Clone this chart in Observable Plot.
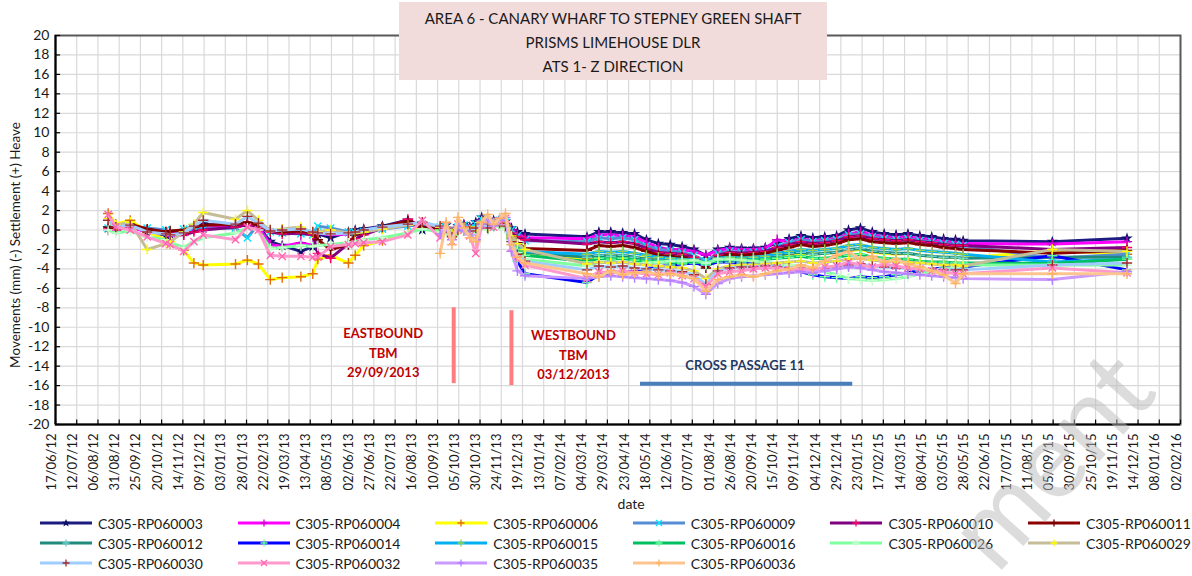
<!DOCTYPE html>
<html><head><meta charset="utf-8">
<script src="https://cdn.jsdelivr.net/npm/d3@7"></script>
<script src="https://cdn.jsdelivr.net/npm/@observablehq/plot@0.6"></script>
<style>
body{margin:0;background:#fff;font-family:Lato,"Open Sans",sans-serif;}
#wrap{position:relative;width:1192px;height:576px;overflow:hidden;background:#fff;}
#chart{position:absolute;left:0;top:0;}
#title{position:absolute;left:399px;top:2px;width:428px;height:78px;background:#f2dcdb;text-align:center;font-size:15px;line-height:24px;color:#1a1a1a;padding-top:4px;box-sizing:border-box;}
.leg{position:absolute;font-size:14px;color:#1a1a1a;display:flex;align-items:center;white-space:nowrap;height:16px;}
.leg svg{margin-right:5px;}
#wm{position:absolute;left:0;top:0;pointer-events:none;}
</style></head>
<body><div id="wrap"><div id="chart"></div>
<div id="title">AREA 6 - CANARY WHARF TO STEPNEY GREEN SHAFT<br>PRISMS LIMEHOUSE DLR<br>ATS 1- Z DIRECTION</div>
<div id="legend"></div>
<svg id="wm" width="1192" height="576"><text x="1160" y="394" text-anchor="end" transform="rotate(-48 1160 394)" font-family="Lato, sans-serif" font-size="108" fill="rgba(185,185,185,0.5)">ment</text></svg>
</div>
<script>
// ---------- tick labels ----------
const tickLabels = ["17/06/12","12/07/12","06/08/12","31/08/12","25/09/12","20/10/12","14/11/12","09/12/12","03/01/13","28/01/13","22/02/13","19/03/13","13/04/13","08/05/13","02/06/13","27/06/13","22/07/13","16/08/13","10/09/13","05/10/13","30/10/13","24/11/13","19/12/13","13/01/14","07/02/14","04/03/14","29/03/14","23/04/14","18/05/14","12/06/14","07/07/14","01/08/14","26/08/14","20/09/14","15/10/14","09/11/14","04/12/14","29/12/14","23/01/15","17/02/15","14/03/15","08/04/15","03/05/15","28/05/15","22/06/15","17/07/15","11/08/15","05/09/15","30/09/15","25/10/15","19/11/15","14/12/15","08/01/16","02/02/16"];
const yTicks = [-20,-18,-16,-14,-12,-10,-8,-6,-4,-2,0,2,4,6,8,10,12,14,16,18,20];

// ---------- survey dates ----------
const earlyDates = ["2012-08-18","2012-08-27","2012-09-13","2012-10-03","2012-10-25","2012-10-30","2012-11-15","2012-11-27","2012-12-08","2013-01-15","2013-01-29","2013-02-11","2013-02-25","2013-03-11","2013-04-02","2013-04-16","2013-04-22","2013-05-07","2013-05-28","2013-06-05","2013-06-15","2013-07-07","2013-08-06","2013-08-23"];
const p1Dates = ["2013-09-13","2013-09-20","2013-09-27","2013-10-04","2013-10-11","2013-10-18","2013-10-25","2013-11-01","2013-11-08","2013-11-15","2013-11-22","2013-11-29","2013-12-06","2013-12-13","2013-12-22"];
const p2Dates = ["2014-03-05","2014-03-19","2014-04-02","2014-04-16","2014-04-30","2014-05-14","2014-05-28","2014-06-11","2014-06-25","2014-07-09","2014-07-23","2014-08-06","2014-08-20","2014-09-03","2014-09-17","2014-10-01","2014-10-15","2014-10-29","2014-11-12","2014-11-26","2014-12-10","2014-12-24","2015-01-07","2015-01-21","2015-02-04","2015-02-18","2015-03-04","2015-03-18","2015-04-01","2015-04-15","2015-04-29","2015-05-13","2015-05-22"];
const lateDates = ["2015-09-04","2015-12-01"];
const allDates = earlyDates.concat(p1Dates, p2Dates, lateDates);

// ---------- series ----------
const seriesNames = ["C305-RP060003","C305-RP060004","C305-RP060006","C305-RP060009","C305-RP060010","C305-RP060011","C305-RP060012","C305-RP060014","C305-RP060015","C305-RP060016","C305-RP060026","C305-RP060029","C305-RP060030","C305-RP060032","C305-RP060035","C305-RP060036"];
const lineColors = ["#1c1c80","#ff00ff","#ffff00","#558ed5","#800080","#8b0000","#218a7c","#0000ff","#00b0f0","#00c060","#80ff9f","#c4bd97","#9fcdff","#ff99cc","#cc99ff","#fcc58f"];
const markerColors = ["#10106a","#d000d0","#e36c0a","#00e5ff","#ff0066","#700000","#66cccc","#66ff99","#92d050","#66ff99","#c8ffd0","#ffff00","#a52a2a","#ff66b3","#b380ff","#ffb366"];
const markerSymbols = ["star","plus","plus","times","plus","plus","plus","plus","plus","plus","plus","plus","plus","times","plus","plus"];

// values (mm); series without early readings start at 13/09/2013
const v003 = [0.2,0.1,0.6,-0.3,-0.5,-0.4,-0.2,0.4,0.6,0.4,0.6,0.4,-1.2,-1.6,-2.2,-1.7,-0.4,-0.8,-0.2,0.0,0.1,0.4,1.0,0.0,
  0.2,0.5,-0.2,0.4,0.6,0.3,0.8,1.3,0.7,1.0,1.1,0.9,0.2,-0.2,-0.4,
  -0.7,-0.2,-0.2,-0.3,-0.4,-1.0,-1.4,-1.5,-1.7,-2.0,-2.6,-2.0,-1.8,-1.9,-1.9,-1.8,-1.3,-0.9,-0.6,-0.8,-0.7,-0.6,0.0,0.2,-0.2,-0.4,-0.5,-0.4,-0.6,-0.7,-0.9,-1.0,-1.1,
  -1.2,-0.85];
const v004 = [0.0,0.0,0.3,-0.2,-0.4,-0.6,-0.5,0.0,0.2,0.3,0.7,0.3,-1.5,-1.7,-1.3,-1.6,-0.3,-0.5,-0.4,-0.2,0.0,0.2,0.7,0.2,
  0.0,0.3,-0.4,0.2,0.5,0.1,0.5,1.0,0.5,0.8,0.9,0.7,0.0,-0.5,-0.8,
  -0.9,-0.5,-0.5,-0.6,-0.7,-1.3,-1.8,-2.0,-2.0,-2.2,-2.6,-2.1,-1.9,-2.0,-2.0,-1.9,-1.0,-1.2,-0.9,-1.1,-1.0,-0.9,-0.4,-0.2,-0.5,-0.7,-0.8,-0.7,-0.9,-1.0,-1.2,-1.3,-1.4,
  -1.45,-1.2];
const v006 = [1.7,0.6,1.0,-0.2,-1.0,-1.4,-2.1,-3.4,-3.6,-3.5,-3.1,-3.5,-5.1,-4.9,-4.8,-4.5,-3.0,-2.6,-3.4,-2.6,-1.6,-1.1,-0.3,0.5,
  0.2,0.3,-0.6,0.0,0.2,-0.2,0.1,0.6,0.2,0.5,0.6,0.3,-0.9,-1.9,-2.6,
  -3.0,-2.6,-2.7,-2.6,-2.8,-2.9,-3.0,-3.1,-3.1,-3.0,-3.3,-2.8,-2.7,-2.8,-2.8,-2.7,-2.6,-2.5,-2.4,-2.5,-2.4,-2.3,-2.1,-2.0,-2.3,-2.4,-2.5,-2.4,-2.6,-2.7,-2.8,-2.8,-2.9,
  -2.1,-2.5];
const v009 = [0.2,0.1,0.3,0.2,0.0,-0.3,0.1,0.3,0.1,0.2,-0.8,0.6,-0.2,-0.3,-0.4,-0.5,0.4,0.2,-0.2,-0.3,-0.2,0.1,0.4,0.6,
  0.3,0.4,-0.3,0.3,0.5,0.2,0.6,1.1,0.6,0.9,1.0,0.8,0.0,-0.6,-1.1,
  -1.2,-0.8,-0.9,-0.8,-1.0,-1.6,-2.0,-2.1,-2.3,-2.6,-3.2,-2.4,-2.2,-2.3,-2.3,-2.2,-1.7,-1.3,-1.0,-1.2,-1.1,-1.0,-0.5,-0.4,-0.7,-0.9,-1.0,-0.9,-1.1,-1.2,-1.4,-1.5,-1.6,
  -2.9,-2.5];
const v010 = [0.1,0.0,0.4,0.0,-0.2,-0.3,-0.5,-0.2,0.0,0.3,0.5,0.2,-0.2,-0.4,-0.3,-0.5,-2.4,-2.9,-1.4,-0.9,-0.5,0.2,1.1,0.3,
  0.1,0.2,-0.5,0.1,0.3,-0.1,0.3,0.8,0.3,0.6,0.7,0.5,-0.3,-0.7,-1.0,
  -1.45,-1.2,-1.3,-1.2,-1.4,-1.9,-2.3,-2.4,-2.5,-2.8,-3.6,-2.6,-2.3,-2.4,-2.3,-2.2,-1.8,-1.5,-1.2,-1.4,-1.3,-1.1,-0.7,-0.6,-0.9,-1.0,-1.1,-1.0,-1.2,-1.3,-1.5,-1.6,-1.6,
  -2.0,-1.8];
const v011 = [0.3,0.2,0.6,0.1,-0.2,-0.1,0.0,0.3,0.5,0.6,0.8,0.5,0.0,-0.2,-0.1,-0.3,-1.0,-2.0,-1.5,-0.5,-0.2,0.3,0.9,0.3,
  0.0,0.1,-0.6,0.0,0.2,-0.2,0.2,0.6,0.2,0.5,0.6,0.3,-0.6,-1.3,-1.9,
  -2.1,-1.6,-1.7,-1.6,-1.8,-2.2,-2.6,-2.7,-2.8,-3.1,-3.9,-2.9,-2.5,-2.6,-2.5,-2.4,-2.1,-1.8,-1.5,-1.7,-1.6,-1.4,-1.0,-0.9,-1.2,-1.3,-1.4,-1.3,-1.5,-1.6,-1.8,-1.9,-2.0,
  -2.4,-2.1];
const v012 = [-0.1,0.2,-0.6,0.0,0.2,-0.2,0.1,0.6,0.2,0.5,0.6,0.3,-0.8,-1.7,-2.3,
  -2.8,-2.6,-2.7,-2.6,-2.8,-3.0,-3.1,-3.2,-3.2,-3.0,-3.4,-2.9,-2.8,-2.9,-2.9,-2.8,-2.6,-2.4,-2.3,-2.5,-2.4,-2.3,-2.0,-1.9,-2.2,-2.3,-2.4,-2.4,-2.6,-2.7,-2.8,-2.8,-2.9,
  -2.8,-2.8];
const v014 = [0.0,0.2,-0.5,0.0,0.2,-0.2,0.2,0.7,0.2,0.5,0.6,0.2,-1.5,-3.2,-4.5,
  -5.4,-4.6,-4.4,-4.3,-4.3,-4.0,-3.8,-3.6,-3.5,-3.4,-3.6,-3.3,-3.3,-3.4,-3.5,-3.6,-3.8,-4.0,-4.3,-4.6,-4.8,-4.9,-5.0,-4.8,-4.9,-4.8,-4.6,-4.4,-4.2,-4.0,-3.9,-3.8,-3.8,
  -2.65,-4.1];
const v015 = [0.0,0.2,-0.5,0.1,0.3,-0.1,0.3,0.9,0.4,0.7,0.8,0.5,-0.8,-1.6,-2.2,
  -2.5,-2.2,-2.3,-2.2,-2.4,-2.6,-2.8,-2.9,-3.0,-3.1,-3.4,-2.9,-2.8,-2.9,-2.8,-2.7,-2.4,-2.2,-2.0,-2.1,-2.0,-1.9,-1.6,-1.5,-1.8,-1.9,-2.0,-1.9,-2.1,-2.2,-2.3,-2.4,-2.5,
  -3.3,-3.0];
const v016 = [-0.2,0.1,-0.7,-0.1,0.1,-0.3,0.0,0.5,0.1,0.4,0.5,0.2,-1.0,-2.0,-2.6,
  -3.25,-2.9,-3.0,-2.9,-3.1,-3.2,-3.3,-3.3,-3.4,-3.2,-3.5,-3.1,-3.0,-3.1,-3.1,-3.0,-2.9,-2.8,-2.7,-2.9,-2.9,-2.8,-2.6,-2.5,-2.8,-2.9,-3.0,-3.0,-3.2,-3.3,-3.3,-3.4,-3.4,
  -3.45,-3.0];
const v026 = [0.0,-0.3,-0.1,-0.7,-1.0,-1.3,-1.8,-1.2,-0.8,-0.3,0.2,0.0,-1.9,-1.8,-1.6,-1.7,-1.6,-1.5,-1.3,-1.2,-1.0,-0.8,-0.3,0.1,
  -0.2,0.0,-0.8,-0.2,0.0,-0.4,-0.1,0.4,0.0,0.3,0.4,0.1,-1.2,-2.3,-3.0,
  -3.7,-3.3,-3.4,-3.3,-3.5,-3.4,-3.3,-3.2,-3.2,-3.1,-3.4,-3.0,-3.0,-3.1,-3.2,-3.3,-3.5,-3.6,-3.8,-4.0,-4.3,-4.6,-5.0,-5.1,-5.2,-5.1,-5.0,-4.8,-4.5,-4.3,-4.0,-3.8,-3.6,
  -3.6,-3.6];
const v029 = [1.2,0.5,0.8,-2.0,-1.4,-1.2,-0.2,0.6,1.8,1.1,2.0,1.0,-0.1,0.1,0.3,-0.3,-0.2,0.0,-0.3,-0.3,-0.2,0.1,0.5,0.8,
  0.3,0.3,-0.4,0.1,0.3,0.0,0.3,0.7,0.3,0.6,0.7,0.4,-0.6,-1.4,-2.0,
  -3.5,-3.3,-3.4,-3.3,-3.5,-3.6,-3.7,-3.8,-3.9,-4.2,-5.0,-4.0,-3.7,-3.6,-3.6,-3.5,-3.4,-3.3,-3.2,-3.4,-3.3,-3.2,-3.0,-2.9,-3.1,-3.2,-3.3,-3.3,-3.4,-3.5,-3.6,-3.6,-3.7,
  -2.0,-2.2];
const v030 = [1.0,0.3,0.5,-0.2,-0.4,-0.5,-0.3,0.4,1.0,0.6,1.4,0.7,-0.1,0.0,0.1,-0.2,-0.3,-0.4,-0.3,-0.2,0.0,0.3,0.6,0.8,
  0.4,0.2,-0.7,0.0,0.3,-0.1,0.2,0.6,0.2,0.5,0.7,0.4,-1.2,-2.5,-3.2,
  -4.1,-3.7,-3.8,-3.7,-3.9,-4.0,-4.1,-4.2,-4.3,-4.6,-5.6,-4.2,-3.9,-3.8,-3.8,-3.7,-3.8,-3.9,-3.9,-4.0,-3.9,-3.8,-3.6,-3.5,-3.7,-3.8,-3.9,-3.9,-4.0,-4.0,-4.1,-4.1,-4.1,
  -3.6,-3.4];
const v032 = [1.6,0.3,0.0,-0.7,-1.4,-1.5,-2.2,-1.2,-0.5,-1.0,0.3,0.0,-2.6,-2.7,-2.7,-2.8,-2.8,-1.7,-1.5,-1.4,-1.3,-1.2,-0.5,1.0,
  -0.8,0.5,-1.2,0.6,0.0,-0.6,-2.4,0.5,1.0,0.3,0.9,1.2,-1.8,-3.0,-3.6,
  -5.0,-4.3,-4.4,-4.2,-4.4,-4.5,-4.6,-4.4,-4.7,-5.0,-5.8,-4.5,-4.3,-4.2,-4.0,-3.9,-3.9,-4.1,-4.0,-4.2,-3.8,-3.7,-3.3,-3.6,-3.8,-3.5,-3.7,-3.9,-4.0,-4.2,-4.3,-4.5,-4.5,
  -3.9,-4.4];
const v035 = [-0.4,0.3,-1.0,0.4,-0.1,-0.5,-1.0,0.6,1.1,0.4,1.0,1.3,-2.2,-4.2,-4.7,
  -5.0,-4.8,-4.7,-4.8,-4.9,-5.0,-5.1,-5.2,-5.4,-5.8,-6.6,-5.5,-5.0,-4.8,-4.7,-4.6,-4.5,-4.4,-4.3,-4.4,-4.2,-4.0,-3.8,-3.9,-4.1,-4.3,-4.4,-4.5,-4.6,-4.7,-4.8,-4.9,-5.0,
  -5.1,-4.3];
const v036 = [-2.4,0.8,-1.5,1.3,0.2,-0.8,-1.2,0.8,1.6,0.6,1.2,1.7,-1.5,-2.8,-3.4,
  -4.5,-4.8,-4.2,-4.6,-4.4,-4.3,-4.6,-4.5,-4.7,-5.0,-6.3,-5.1,-4.8,-4.6,-4.8,-4.5,-4.2,-4.0,-3.6,-3.9,-3.2,-2.6,-2.2,-3.0,-2.7,-3.3,-3.0,-3.5,-3.8,-4.2,-4.6,-5.5,-4.5,
  -4.5,-4.5];
const seriesValues = [v003,v004,v006,v009,v010,v011,v012,v014,v015,v016,v026,v029,v030,v032,v035,v036];

// ---------- annotations ----------
const tbmDates = ["2013-09-29","2013-12-06"];
const tbmTop = [-8.0,-8.3];
const tbmBottom = [-15.8,-16.0];
const tbmLabels = ["EASTBOUND\nTBM\n29/09/2013","WESTBOUND\nTBM\n03/12/2013"];
const tbmLabelDates = ["2013-07-08","2014-02-17"];
const tbmLabelY = [-12.5,-12.7];
const cpRange = ["2014-05-07","2015-01-12"];
const cpLevel = -15.8;
const cpLabel = "CROSS PASSAGE 11";
const cpLabelDate = "2014-09-07";
const cpLabelY = -14.0;

// ---------- build ----------
const parseTick = s => { const [d,m,y] = s.split("/"); return new Date(`20${y}-${m}-${d}`); };
const tickDates = tickLabels.map(parseTick);
const xStart = tickDates[0], xEnd = tickDates[tickDates.length-1];

const rows = [];
seriesNames.forEach((name,k) => {
  const vals = seriesValues[k];
  const off = allDates.length - vals.length;
  vals.forEach((v,i) => rows.push({name, date: new Date(allDates[off+i]), value: v}));
});

const marks = [
  Plot.ruleY(yTicks, {y: d=>d, stroke:"#d9d9d9", strokeWidth:1.2}),
  Plot.ruleX(tickDates, {x: d=>d, stroke:"#d9d9d9", strokeWidth:1.2}),
];
seriesNames.forEach((name,k) => {
  const d = rows.filter(r => r.name === name);
  marks.push(Plot.line(d, {x:"date", y:"value", stroke: lineColors[k], strokeWidth: 3}));
  if (markerSymbols[k] === "star") {
    marks.push(Plot.dot(d, {x:"date", y:"value", symbol:"star", r:3.6, fill: markerColors[k]}));
  } else {
    marks.push(Plot.dot(d, {x:"date", y:"value", symbol: markerSymbols[k], r:3.4, stroke: markerColors[k], strokeWidth:1.4}));
  }
});
marks.push(
  Plot.ruleX(tbmDates.map((d,i)=>({x:new Date(d), y1:tbmTop[i], y2:tbmBottom[i]})), {x:"x", y1:"y1", y2:"y2", stroke:"#ff7c80", strokeWidth:4}),
  Plot.ruleY([{y:cpLevel, x1:new Date(cpRange[0]), x2:new Date(cpRange[1])}], {y:"y", x1:"x1", x2:"x2", stroke:"#4a7ebb", strokeWidth:4}),
  Plot.text(tbmLabels.map((t,i)=>({t, x:new Date(tbmLabelDates[i]), y:tbmLabelY[i]})), {x:"x", y:"y", text:"t", fill:"#c00000", fontWeight:"bold", fontSize:13, lineHeight:1.5}),
  Plot.text([{t:cpLabel, x:new Date(cpLabelDate), y:cpLabelY}], {x:"x", y:"y", text:"t", fill:"#1f3864", fontWeight:"bold", fontSize:13}),
  // axes
  Plot.frame({stroke:"#595959", strokeWidth:2}),
  Plot.ruleX([xStart], {stroke:"#000", strokeWidth:2}),
  Plot.ruleY([-20], {stroke:"#000", strokeWidth:2}),
  Plot.ruleY(yTicks, {y:d=>d, x1: xStart, x2: d3.utcDay.offset(xStart, 6), stroke:"#000", strokeWidth:1.2}),
  Plot.ruleX(tickDates, {x:d=>d, y1:-20, y2:-19.55, stroke:"#000", strokeWidth:1.2}),
  Plot.text(yTicks, {y:d=>d, frameAnchor:"left", dx:-6, textAnchor:"end", text:d=>String(d), fontSize:14, fill:"#1a1a1a"}),
  Plot.text(tickDates, {x:d=>d, frameAnchor:"bottom", dy:9, rotate:-90, textAnchor:"end", text:(d,i)=>tickLabels[i], fontSize:13, fill:"#1a1a1a"}),
  Plot.text(["Movements (mm) (-) Settlement (+) Heave"], {frameAnchor:"left", dx:-40, dy:15, rotate:-90, textAnchor:"middle", text:d=>d, fontSize:13.5, fill:"#1a1a1a"}),
  Plot.text(["date"], {frameAnchor:"bottom", x: new Date("2014-04-26"), dy:84, text:d=>d, fontSize:14, fill:"#1a1a1a"})
);

const chart = Plot.plot({
  width:1192, height:576,
  marginLeft:55, marginRight:12, marginTop:35, marginBottom:152,
  x:{type:"utc", domain:[xStart,xEnd], axis:null},
  y:{domain:[-20,20], axis:null},
  style:{fontFamily:"Lato, 'Open Sans', sans-serif", background:"#fff", color:"#1a1a1a", overflow:"visible"},
  marks
});
document.getElementById("chart").appendChild(chart);

// ---------- legend ----------
const legend = document.getElementById("legend");
const symPath = {
  star: "M0,-4L1.2,-1.2L4,-1.2L1.8,0.6L2.6,3.6L0,1.8L-2.6,3.6L-1.8,0.6L-4,-1.2L-1.2,-1.2Z",
  plus: "M-3.5,0H3.5M0,-3.5V3.5",
  times: "M-3,-3L3,3M-3,3L3,-3"
};
seriesNames.forEach((name,k) => {
  const col = k % 6, row = Math.floor(k/6);
  const div = document.createElement("div");
  div.className = "leg";
  div.style.left = (40 + col*197.6) + "px";
  div.style.top = (515 + row*20) + "px";
  const sym = markerSymbols[k];
  const symEl = sym === "star"
    ? `<path d="${symPath.star}" transform="translate(26,6)" fill="${markerColors[k]}"/>`
    : `<path d="${symPath[sym]}" transform="translate(26,6)" stroke="${markerColors[k]}" stroke-width="1.3" fill="none"/>`;
  div.innerHTML = `<svg width="53" height="12"><line x1="0" x2="52" y1="6" y2="6" stroke="${lineColors[k]}" stroke-width="3"/>${symEl}</svg><span>${name}</span>`;
  legend.appendChild(div);
});
</script>
</body></html>
